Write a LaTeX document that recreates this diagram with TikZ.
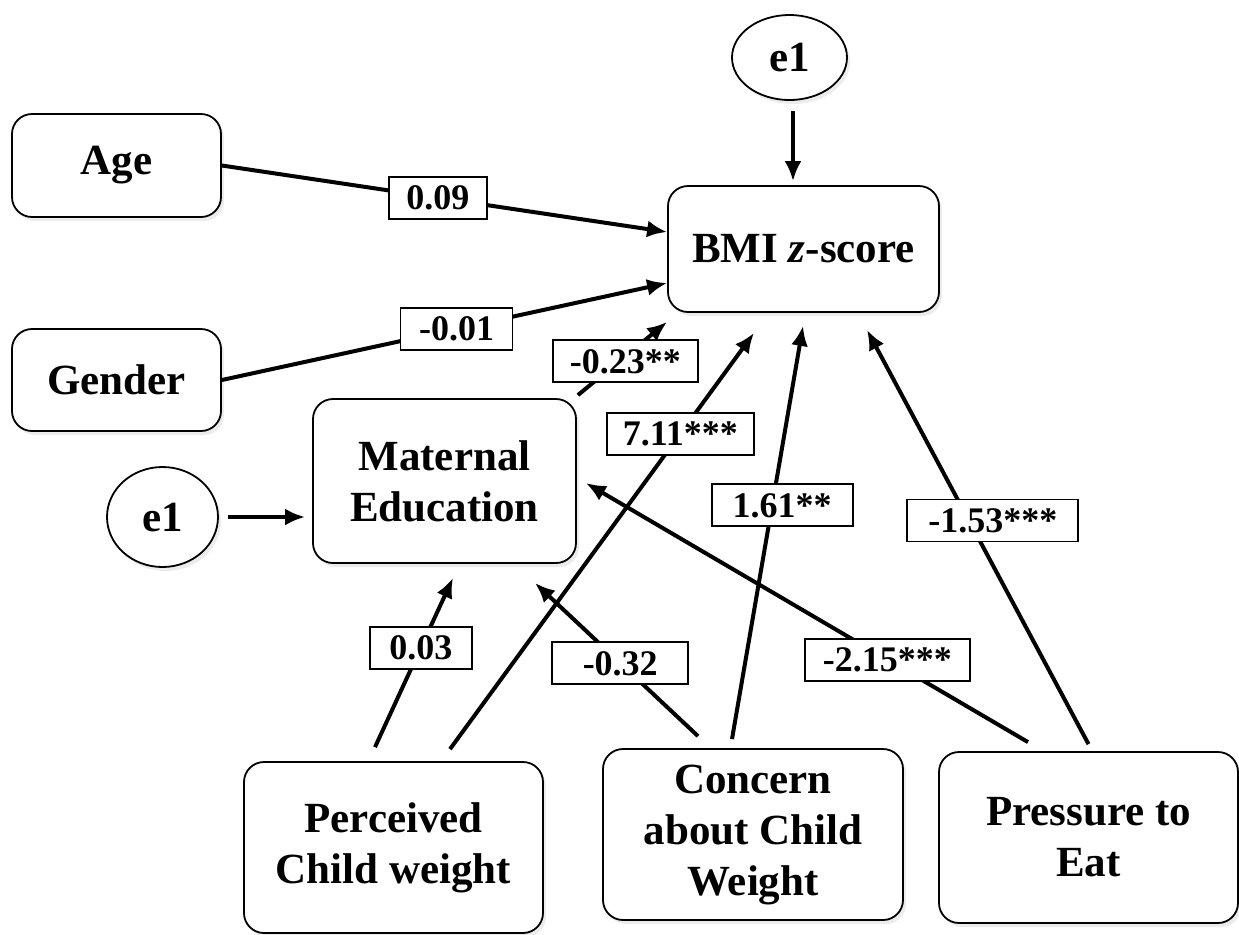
\documentclass[tikz,border=0pt]{standalone}
\usepackage{fontspec}
\setmainfont{Liberation Serif}
\usetikzlibrary{arrows.meta,calc,shadows,shapes.geometric}
\begin{document}
\begin{tikzpicture}[x=0.5pt,y=-0.5pt,
  box/.style={draw, line width=0.9pt, rounded corners=10pt, fill=white, align=center,
    font=\bfseries\fontsize{21.5}{25.5}\selectfont, inner sep=0pt,
    drop shadow={shadow xshift=1.5pt,shadow yshift=-2pt,opacity=0.15}},
  errnode/.style={ellipse, draw, line width=0.9pt, fill=white, inner sep=0pt,
    font=\bfseries\fontsize{21.5}{25.5}\selectfont,
    drop shadow={shadow xshift=1.5pt,shadow yshift=-2pt,opacity=0.15}},
  arr/.style={-{Latex[length=10pt,width=8.5pt]}, line width=2pt},
  lbl/.style={draw, fill=white, line width=0.9pt, font=\bfseries\fontsize{18}{20}\selectfont,
    inner xsep=8pt, inner ysep=0pt, minimum height=21pt, text depth=0pt}
]
\useasboundingbox (0,0) rectangle (1239,934);

% nodes
\node[box, minimum width=104.5pt, minimum height=51.5pt] (age) at (116.5,165.5) {Age};
\node[box, minimum width=104.5pt, minimum height=51pt] (gender) at (116.5,380) {Gender};
\node[box, minimum width=135.5pt, minimum height=63pt] (bmi) at (803.5,249) {BMI {\itshape z}-score};
\node[errnode, minimum width=57.5pt, minimum height=42.5pt] (etop) at (789.5,57.5) {e1};
\node[box, minimum width=131.5pt, minimum height=82pt] (mated) at (444.5,481) {Maternal\\Education};
\node[errnode, minimum width=55.5pt, minimum height=50pt] (eleft) at (162.5,517) {e1};
\node[box, minimum width=149.5pt, minimum height=85.5pt] (perc) at (393.5,847.5) {Perceived\\Child weight};
\node[box, minimum width=150pt, minimum height=85.5pt] (conc) at (753,834.5) {Concern\\about Child\\Weight};
\node[box, minimum width=149.5pt, minimum height=85.5pt] (press) at (1088.5,837.5) {Pressure to\\Eat};

% error arrows
\draw[arr] ($(etop.south)+(3.5,10)$) -- ($(bmi.north)+(-10.5,-4)$);
\draw[arr] ($(eleft.east)+(9,0)$) -- ($(mated.west)+(-7,36)$);

% paths to BMI
\draw[arr] (age.east) -- node[lbl, pos=0.485, minimum width=49pt] {0.09} ($(bmi.west)+(0,-17)$);
\draw[arr] (gender.east) -- node[lbl, pos=0.527, minimum width=56pt] {-0.01} ($(bmi.west)+(0,34)$);
\draw[arr] ($(mated.north east)+(1,-3)$) -- node[lbl, pos=0.533, yshift=-2.5pt, minimum width=72.5pt] {-0.23**} ($(bmi.south west)+(0,9)$);
\draw[arr] ($(perc.north)+(56.5,-12)$) -- node[lbl, pos=0.758, minimum width=71.5pt] {7.11***} ($(bmi.south)+(-49.5,20)$);
\draw[arr] ($(conc.north)+(-21,-9)$) -- node[lbl, pos=0.566, xshift=5pt, minimum width=70.5pt] {1.61**} ($(bmi.south)+(-0.5,13)$);
\draw[arr] ($(press.north)+(0,-7)$) -- node[lbl, pos=0.54, xshift=12pt, minimum width=85.5pt] {-1.53***} ($(bmi.south)+(63.5,17)$);

% paths to Maternal Education
\draw[arr] ($(perc.north)+(-18.5,-14)$) -- node[lbl, pos=0.588, minimum width=51pt] {0.03} ($(mated.south)+(8.5,14)$);
\draw[arr] ($(conc.north)+(-55,-12)$) -- node[lbl, pos=0.477, minimum width=68pt] {-0.32} ($(mated.south)+(90.5,19)$);
\draw[arr] ($(press.north)+(-60.5,-9)$) -- node[lbl, pos=0.318, minimum width=82.5pt] {-2.15***} ($(mated.east)+(9,2)$);
\end{tikzpicture}
\end{document}
